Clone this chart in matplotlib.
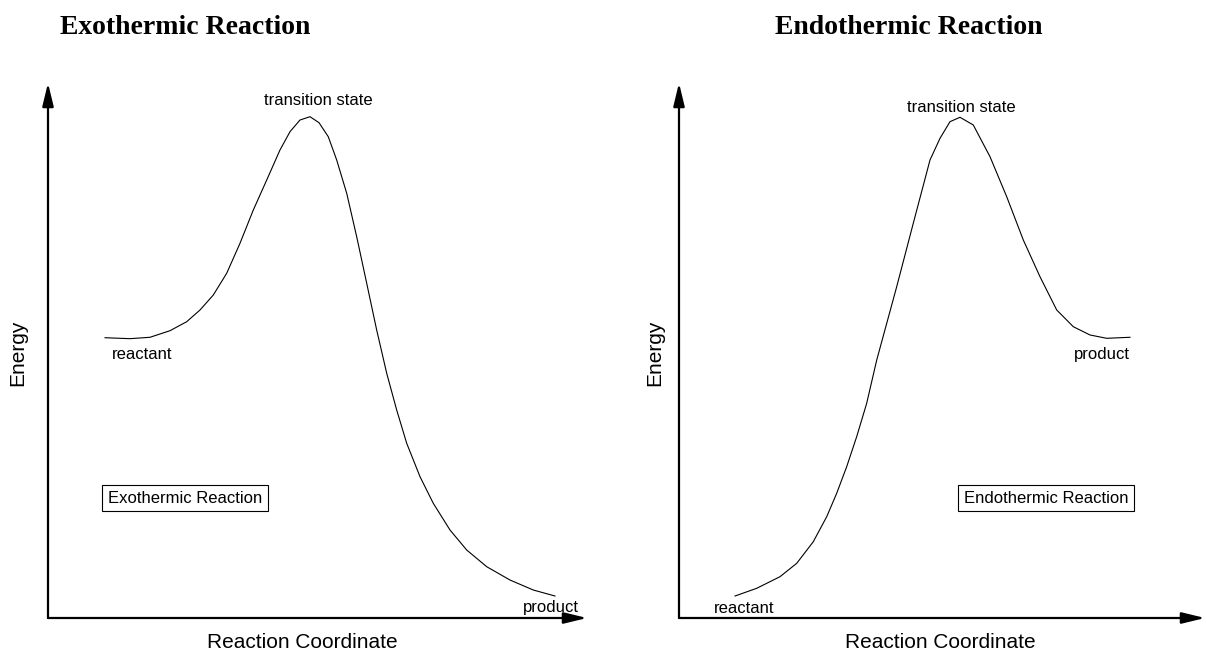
import matplotlib
matplotlib.use("Agg")
import matplotlib.pyplot as plt

# ---- data (reaction coordinate 0-100, energy 0-100) ----
exo_x = [10.58, 15.21, 18.92, 22.63, 25.73, 28.20, 30.67, 33.15, 35.62, 38.09,
         40.58, 43.04, 44.90, 46.75, 48.61, 50.28, 52.00, 53.56, 55.42, 57.27,
         59.13, 60.98, 62.84, 64.69, 66.55, 69.02, 71.48, 74.58, 77.68, 81.39,
         85.71, 90.04, 94.06]
exo_y = [52.39, 52.21, 52.47, 53.70, 55.38, 57.57, 60.37, 64.43, 70.04, 76.26,
         81.87, 87.48, 90.90, 93.08, 93.70, 92.58, 89.96, 85.61, 79.38, 71.27,
         62.56, 53.83, 45.74, 38.88, 32.65, 26.41, 21.44, 16.45, 12.71, 9.59,
         7.10, 5.23, 4.11]

endo_x = [10.65, 14.77, 19.20, 22.38, 25.53, 28.08, 29.98, 31.88, 33.78, 35.68,
          37.59, 41.39, 44.54, 47.72, 49.62, 51.52, 53.42, 55.95, 59.13, 62.30,
          65.46, 68.63, 71.81, 74.96, 78.14, 81.31, 85.74]
endo_y = [4.11, 5.55, 7.72, 10.22, 14.26, 18.93, 23.31, 28.28, 33.89, 40.13,
          48.22, 61.93, 73.78, 85.61, 89.66, 92.77, 93.59, 92.15, 86.22, 78.75,
          70.65, 63.79, 57.57, 54.45, 52.90, 52.28, 52.47]

titles = ["Exothermic Reaction", "Endothermic Reaction"]
xlabel = "Reaction Coordinate"
ylabel = "Energy"

W, H = 1207, 656
fig = plt.figure(figsize=(W / 100, H / 100), dpi=100)
plt.rcParams['font.family'] = ['Liberation Sans', 'DejaVu Sans']

def px_rect(x0, y0, x1, y1):
    return [x0 / W, 1 - y1 / H, (x1 - x0) / W, (y1 - y0) / H]

panels = [
    dict(rect=px_rect(48, 83, 587, 618), x=exo_x, y=exo_y, title=titles[0],
         title_px=(185, 28), ts=(50.1, 96.8), re=(17.4, 49.2), pr=(93.3, 1.9),
         box=(25.4, 22.4), xl_px=(302, 643), yl_px=(18, 353)),
    dict(rect=px_rect(679, 83, 1205, 618), x=endo_x, y=endo_y, title=titles[1],
         title_px=(909, 28), ts=(53.6, 95.5), re=(12.4, 1.7), pr=(80.4, 49.3),
         box=(69.8, 22.4), xl_px=(940, 643), yl_px=(655, 353)),
]

arrow = dict(arrowstyle="-|>,head_length=0.7,head_width=0.17", color="black",
             lw=1.6, mutation_scale=20, shrinkA=0, shrinkB=0)

for p in panels:
    ax = fig.add_axes(p["rect"])
    ax.set_xlim(0, 100)
    ax.set_ylim(0, 100)
    ax.axis("off")
    ax.plot(p["x"], p["y"], color="black", lw=0.8, clip_on=False)
    # axes arrows
    ax.annotate("", xy=(0, 100), xytext=(0, 0), xycoords="data",
                arrowprops=arrow, annotation_clip=False)
    ax.annotate("", xy=(100, 0), xytext=(0, 0), xycoords="data",
                arrowprops=arrow, annotation_clip=False)
    ax.text(*p["ts"], "transition state", ha="center", va="center", fontsize=12)
    ax.text(*p["re"], "reactant", ha="center", va="center", fontsize=12)
    ax.text(*p["pr"], "product", ha="center", va="center", fontsize=12)
    ax.text(*p["box"], p["title"], ha="center", va="center", fontsize=12,
            bbox=dict(boxstyle="square,pad=0.35", fc="white", ec="black", lw=0.8))
    fig.text(p["title_px"][0] / W, 1 - p["title_px"][1] / H, p["title"],
             ha="center", va="center", fontsize=20, fontweight="bold",
             family=["Liberation Serif", "DejaVu Serif"])
    fig.text(p["xl_px"][0] / W, 1 - p["xl_px"][1] / H, xlabel,
             ha="center", va="center", fontsize=15)
    fig.text(p["yl_px"][0] / W, 1 - p["yl_px"][1] / H, ylabel,
             ha="center", va="center", fontsize=15, rotation=90)

fig.savefig("out.png", dpi=100)
